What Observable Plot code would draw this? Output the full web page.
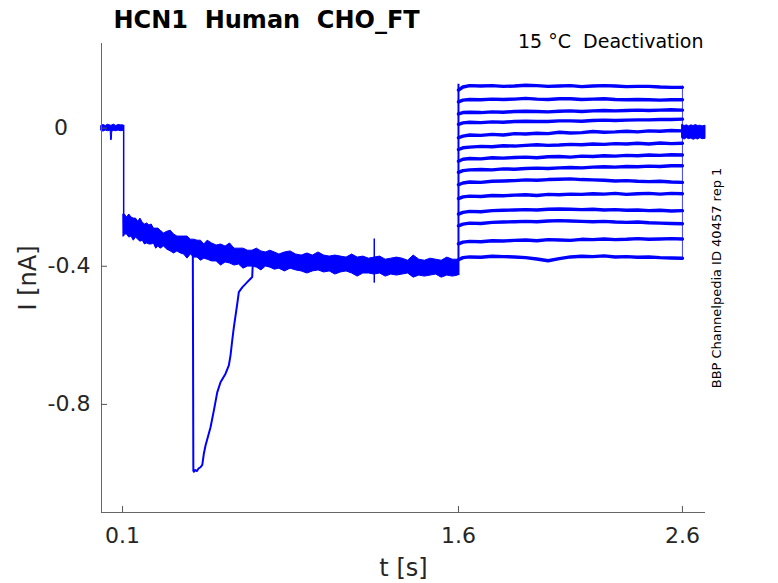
<!DOCTYPE html>
<html><head><meta charset="utf-8">
<script src="https://cdn.jsdelivr.net/npm/d3@7"></script>
<script src="https://cdn.jsdelivr.net/npm/@observablehq/plot@0.6"></script>
<style>
html,body{margin:0;padding:0;background:#fff;}
svg text{white-space:pre;}
</style></head><body><div id="chart"></div>
<script>
// ---- axes ----
const xDomain = [0.006, 2.703];
const yDomain = [-1.113, 0.245];
const xTicks = [0.1, 1.6, 2.6];
const xTickLabels = ["0.1", "1.6", "2.6"];
const yTicks = [0, -0.4, -0.8];
const yTickLabels = ["0", "-0.4", "-0.8"];

// ---- holding baseline before the step (envelope of noisy band) ----
const baseT  = [0.006, 0.015, 0.025, 0.035, 0.044, 0.047, 0.049, 0.052, 0.054, 0.062, 0.072, 0.082, 0.092, 0.104];
const baseUp = [0.007, 0.009, 0.006, 0.010, 0.008, 0.007, 0.007, 0.007, 0.008, 0.010, 0.006, 0.009, 0.008, 0.008];
const baseLo = [-0.008, -0.010, -0.007, -0.009, -0.008, -0.010, -0.036, -0.034, -0.010, -0.008, -0.009, -0.007, -0.009, -0.008];

// ---- step onset ----
const stepT = 0.105;
const stepTop = 0.008;
const stepBottom = -0.314;

// ---- activation phase (overlapping noisy sweeps: upper / lower envelope) ----
const bandT = [0.105,0.110,0.120,0.130,0.140,0.150,0.160,0.170,0.180,0.190,0.200,0.210,0.220,0.230,0.240,0.250,0.260,0.270,0.285,0.300,0.315,0.330,0.345,0.360,0.375,0.390,0.405,0.420,0.435,0.450,0.465,0.480,0.500,0.520,0.540,0.560,0.580,0.600,0.620,0.640,0.660,0.680,0.700,0.720,0.740,0.760,0.780,0.800,0.825,0.850,0.875,0.900,0.925,0.950,0.975,1.000,1.025,1.050,1.075,1.100,1.125,1.150,1.175,1.200,1.225,1.250,1.275,1.300,1.325,1.350,1.375,1.400,1.425,1.450,1.475,1.500,1.525,1.550,1.575,1.598];
const bandUp = [-0.250,-0.250,-0.259,-0.250,-0.259,-0.262,-0.262,-0.271,-0.262,-0.274,-0.279,-0.276,-0.282,-0.279,-0.291,-0.291,-0.291,-0.297,-0.305,-0.300,-0.297,-0.308,-0.314,-0.314,-0.314,-0.314,-0.323,-0.323,-0.326,-0.326,-0.337,-0.326,-0.334,-0.340,-0.337,-0.343,-0.334,-0.349,-0.349,-0.349,-0.355,-0.355,-0.349,-0.357,-0.360,-0.355,-0.360,-0.366,-0.360,-0.357,-0.366,-0.369,-0.363,-0.369,-0.360,-0.369,-0.372,-0.369,-0.372,-0.375,-0.366,-0.375,-0.372,-0.378,-0.375,-0.372,-0.381,-0.378,-0.375,-0.378,-0.384,-0.369,-0.381,-0.384,-0.378,-0.381,-0.384,-0.375,-0.381,-0.381];
const bandLo = [-0.314,-0.308,-0.308,-0.317,-0.314,-0.326,-0.317,-0.323,-0.329,-0.326,-0.337,-0.334,-0.337,-0.337,-0.334,-0.349,-0.343,-0.349,-0.343,-0.352,-0.357,-0.363,-0.357,-0.363,-0.366,-0.378,-0.366,-0.375,-0.375,-0.384,-0.378,-0.381,-0.386,-0.386,-0.398,-0.389,-0.392,-0.398,-0.395,-0.407,-0.401,-0.401,-0.404,-0.412,-0.401,-0.404,-0.410,-0.407,-0.415,-0.407,-0.412,-0.415,-0.421,-0.415,-0.412,-0.418,-0.415,-0.424,-0.418,-0.415,-0.421,-0.430,-0.421,-0.421,-0.424,-0.421,-0.430,-0.424,-0.427,-0.424,-0.421,-0.433,-0.427,-0.430,-0.427,-0.424,-0.433,-0.427,-0.430,-0.427];

// ---- transient artefact in one sweep ----
const transT = [0.4138,0.4161,0.418,0.425,0.432,0.440,0.448,0.456,0.4629,0.4705,0.4929,0.5076,0.5228,0.5375,0.5598,0.5746,0.5821,0.5897,0.5969,0.6121,0.6192,0.6344,0.6567,0.6714,0.6790,0.6817];
const transI = [-0.369,-0.991,-0.995,-0.990,-0.993,-0.985,-0.982,-0.975,-0.943,-0.919,-0.866,-0.818,-0.765,-0.736,-0.711,-0.687,-0.658,-0.615,-0.577,-0.509,-0.475,-0.461,-0.446,-0.436,-0.431,-0.389];

// ---- brief spike ----
const spikeT = 1.224;
const spikeTop = -0.321;
const spikeBottom = -0.449;

// ---- deactivation test pulses (14 sweeps) ----
const deactStartT = 1.6;
const deactEndT = 2.6;
const deactT = [1.600,1.620,1.650,1.700,1.750,1.800,1.850,1.900,1.950,2.000,2.050,2.100,2.150,2.200,2.250,2.300,2.350,2.400,2.450,2.500,2.550,2.600];
const sweep01 = [0.110,0.119,0.123,0.122,0.123,0.121,0.122,0.124,0.123,0.121,0.122,0.123,0.120,0.122,0.123,0.122,0.120,0.121,0.121,0.119,0.118,0.118];
const sweep02 = [0.076,0.081,0.083,0.082,0.084,0.083,0.084,0.086,0.084,0.083,0.085,0.085,0.083,0.084,0.085,0.083,0.082,0.083,0.082,0.081,0.082,0.082];
const sweep03 = [0.041,0.045,0.046,0.045,0.047,0.046,0.048,0.049,0.048,0.047,0.049,0.050,0.048,0.050,0.051,0.050,0.051,0.052,0.051,0.052,0.053,0.052];
const sweep04 = [0.011,0.015,0.017,0.016,0.018,0.017,0.019,0.020,0.019,0.019,0.021,0.021,0.020,0.022,0.023,0.022,0.023,0.024,0.024,0.025,0.025,0.026];
const sweep05 = [-0.028,-0.023,-0.020,-0.021,-0.018,-0.020,-0.016,-0.017,-0.015,-0.016,-0.012,-0.014,-0.013,-0.010,-0.012,-0.011,-0.009,-0.011,-0.008,-0.009,-0.007,-0.008];
const sweep06 = [-0.062,-0.057,-0.055,-0.053,-0.054,-0.051,-0.052,-0.050,-0.048,-0.050,-0.049,-0.047,-0.048,-0.046,-0.047,-0.045,-0.046,-0.044,-0.046,-0.043,-0.045,-0.044];
const sweep07 = [-0.096,-0.090,-0.088,-0.089,-0.086,-0.087,-0.085,-0.084,-0.086,-0.083,-0.082,-0.084,-0.081,-0.082,-0.080,-0.081,-0.079,-0.080,-0.078,-0.079,-0.077,-0.078];
const sweep08 = [-0.128,-0.123,-0.121,-0.120,-0.121,-0.118,-0.119,-0.117,-0.116,-0.117,-0.115,-0.114,-0.115,-0.113,-0.112,-0.113,-0.111,-0.112,-0.110,-0.111,-0.109,-0.109];
const sweep09 = [-0.164,-0.159,-0.156,-0.157,-0.154,-0.153,-0.152,-0.150,-0.151,-0.149,-0.148,-0.147,-0.149,-0.150,-0.151,-0.153,-0.152,-0.154,-0.155,-0.154,-0.156,-0.157];
const sweep10 = [-0.204,-0.199,-0.197,-0.198,-0.195,-0.196,-0.194,-0.193,-0.195,-0.192,-0.193,-0.191,-0.192,-0.190,-0.191,-0.189,-0.192,-0.190,-0.189,-0.191,-0.189,-0.190];
const sweep11 = [-0.249,-0.244,-0.241,-0.242,-0.239,-0.238,-0.237,-0.236,-0.237,-0.235,-0.234,-0.235,-0.236,-0.235,-0.237,-0.236,-0.238,-0.237,-0.239,-0.238,-0.240,-0.239];
const sweep12 = [-0.283,-0.278,-0.275,-0.276,-0.273,-0.272,-0.271,-0.270,-0.271,-0.269,-0.268,-0.269,-0.270,-0.271,-0.270,-0.272,-0.273,-0.272,-0.274,-0.275,-0.276,-0.277];
const sweep13 = [-0.335,-0.330,-0.328,-0.329,-0.326,-0.327,-0.325,-0.324,-0.326,-0.323,-0.324,-0.325,-0.322,-0.323,-0.321,-0.323,-0.322,-0.320,-0.322,-0.321,-0.320,-0.321];
const sweep14 = [-0.381,-0.375,-0.373,-0.374,-0.371,-0.372,-0.373,-0.375,-0.379,-0.384,-0.378,-0.373,-0.371,-0.372,-0.370,-0.373,-0.372,-0.374,-0.373,-0.375,-0.376,-0.377];
const sweeps = [sweep01,sweep02,sweep03,sweep04,sweep05,sweep06,sweep07,sweep08,sweep09,sweep10,sweep11,sweep12,sweep13,sweep14];

// ---- tail after the test pulse ----
const tailT  = [2.600,2.610,2.620,2.630,2.640,2.650,2.660,2.670,2.680,2.690,2.703];
const tailUp = [0.009,0.006,0.008,0.005,0.008,0.006,0.009,0.006,0.007,0.005,0.007];
const tailLo = [-0.030,-0.033,-0.029,-0.032,-0.030,-0.034,-0.031,-0.033,-0.029,-0.032,-0.031];

// ---- texts ----
const titleText = "HCN1  Human  CHO_FT";
const condText = "15 °C  Deactivation";
const sideText = "BBP Channelpedia ID 40457 rep 1";
const xLabel = "t [s]";
const yLabel = "I [nA]";

const blue = "#0000ff";
const envRows = (T, U, L) => T.map((t, i) => ({t, up: U[i], lo: L[i]}));
const baseRows = envRows(baseT, baseUp, baseLo);
const bandRows = envRows(bandT, bandUp, bandLo);
const tailRows = envRows(tailT, tailUp, tailLo);
const transRows = transT.map((t, i) => ({t, i: transI[i]}));
const deactRows = sweeps.flatMap((vals, s) => vals.map((v, k) => ({t: deactT[k], i: v, sweep: s})));

const chart = Plot.plot({
  width: 778,
  height: 583,
  marginLeft: 101,
  marginRight: 73,
  marginTop: 43,
  marginBottom: 71,
  style: {fontFamily: "DejaVu Sans", background: "#fff", color: "#262626"},
  x: {domain: xDomain, label: null},
  y: {domain: yDomain, label: null},
  marks: [
    // data
    Plot.areaY(baseRows, {x: "t", y1: "lo", y2: "up", fill: blue, stroke: blue, strokeWidth: 1}),
    Plot.ruleX([stepT], {y1: stepTop, y2: stepBottom, stroke: blue, strokeWidth: 1.5}),
    Plot.areaY(bandRows, {x: "t", y1: "lo", y2: "up", fill: blue, stroke: blue, strokeWidth: 1}),
    Plot.line(transRows, {x: "t", y: "i", stroke: blue, strokeWidth: 2}),
    Plot.ruleX([spikeT], {y1: spikeTop, y2: spikeBottom, stroke: blue, strokeWidth: 1.5}),
    Plot.ruleX([deactStartT], {y1: bandLo[bandLo.length - 1], y2: d3.max(sweeps, s => d3.max(s)) + 0.003, stroke: blue, strokeWidth: 2}),
    Plot.line(deactRows, {x: "t", y: "i", z: "sweep", stroke: blue, strokeWidth: 3.4}),
    Plot.ruleX([deactEndT], {y1: d3.min(sweeps, s => s[s.length - 1]) - 0.004, y2: d3.max(sweeps, s => s[s.length - 1]) + 0.004, stroke: blue, strokeWidth: 1, strokeOpacity: 0.75}),
    Plot.areaY(tailRows, {x: "t", y1: "lo", y2: "up", fill: blue, stroke: blue, strokeWidth: 1}),
    // axis lines
    Plot.ruleX([xDomain[0]], {stroke: "#666", strokeWidth: 1}),
    Plot.ruleY([yDomain[0]], {stroke: "#666", strokeWidth: 1}),
    // inward ticks
    Plot.axisX({ticks: xTicks, tickSize: 6, dy: -6, tickFormat: () => "", color: "#555", label: null}),
    Plot.axisY({ticks: yTicks, tickSize: 6, dx: 6, tickFormat: () => "", color: "#555", label: null}),
    // tick labels
    Plot.axisX({ticks: xTicks, tickSize: 0, tickPadding: 15, fontSize: 22, tickFormat: (d, i) => xTickLabels[i], color: "#262626", label: null}),
    Plot.axisY({ticks: yTicks.slice(0, 1), tickSize: 0, tickPadding: 3, textAnchor: "start", dx: -44.5, fontSize: 22, tickFormat: (d, i) => yTickLabels[i], color: "#262626", label: null}),
    Plot.axisY({ticks: yTicks.slice(1), tickSize: 0, tickPadding: 3, textAnchor: "start", dx: -51, fontSize: 22, tickFormat: (d, i) => yTickLabels[i + 1], color: "#262626", label: null}),
    // texts
    Plot.text([titleText], {frameAnchor: "top-left", dx: 12, dy: -16, textAnchor: "start", lineAnchor: "bottom", fontSize: 24, fontWeight: "bold", fill: "#000"}),
    Plot.text([condText], {frameAnchor: "top-right", dx: -2, dy: 4, textAnchor: "end", lineAnchor: "bottom", fontSize: 19, fill: "#000"}),
    Plot.text([sideText], {frameAnchor: "right", dx: 11, rotate: -90, textAnchor: "middle", lineAnchor: "middle", fontSize: 13, fill: "#000"}),
    Plot.text([xLabel], {frameAnchor: "bottom", dy: 63, textAnchor: "middle", lineAnchor: "bottom", fontSize: 24, fill: "#262626"}),
    Plot.text([yLabel], {frameAnchor: "left", dx: -73, rotate: -90, textAnchor: "middle", lineAnchor: "middle", fontSize: 24, fill: "#262626"})
  ]
});
document.getElementById("chart").append(chart);
</script></body></html>
